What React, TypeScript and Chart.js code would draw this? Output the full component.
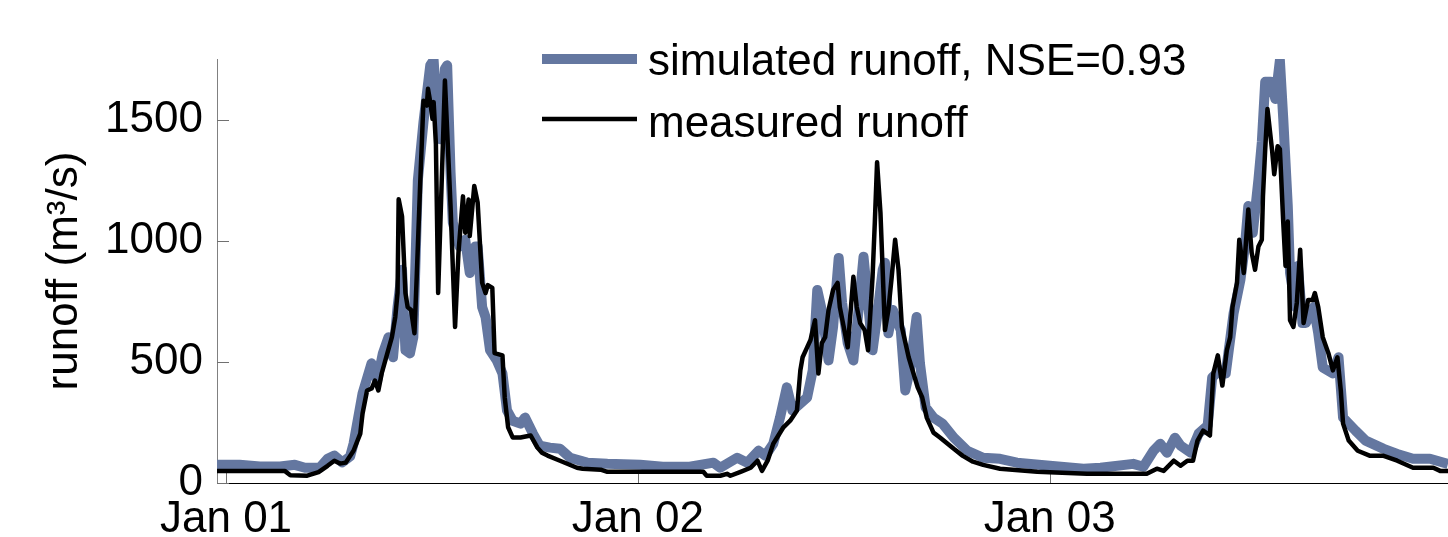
import { useEffect, useRef } from 'react';
import { Chart, registerables } from 'chart.js';

Chart.register(...registerables);

// Days since Jan 01 (first year) and runoff in m³/s
const measuredDays = [
  -8, 21, 52, 57, 72, 82, 90, 96, 101, 106, 113, 119, 121, 125, 129, 132, 135, 138, 143, 147,
  150, 152, 153, 156, 159, 161, 164, 167, 169, 172, 175, 178, 179, 181, 183, 184, 186, 188, 194, 199,
  203, 206, 210, 212, 215, 216, 220, 223, 227, 230, 232, 236, 238, 245, 247, 250, 254, 261, 270, 276,
  280, 285, 296, 311, 316, 332, 338, 379, 423, 426, 438, 444, 447, 456, 465, 471, 475, 480, 485, 494,
  500, 506, 509, 511, 515, 518, 522, 525, 528, 531, 534, 538, 542, 544, 551, 556, 559, 562, 566, 569,
  573, 575, 577, 580, 584, 587, 590, 593, 596, 599, 605, 613, 617, 621, 627, 633, 645, 653, 662, 671,
  686, 719, 763, 816, 825, 831, 840, 846, 852, 857, 861, 866, 872, 875, 879, 883, 887, 890, 892, 896,
  898, 902, 906, 909, 912, 915, 918, 919, 921, 923, 927, 929, 932, 934, 937, 939, 941, 943, 946, 949,
  952, 955, 959, 963, 965, 968, 972, 977, 981, 985, 988, 990, 995, 1003, 1014, 1026, 1038, 1052, 1070, 1076,
  1083,
];
const measuredRunoff = [
  50, 50, 50, 32, 30, 45, 71, 92, 80, 84, 133, 204, 287, 382, 390, 423, 382, 453, 536, 602,
  685, 784, 1171, 1100, 784, 726, 714, 618, 851, 1225, 1578, 1558, 1627, 1572, 1503, 1572, 1400, 784, 1661, 1142,
  644, 951, 1183, 1033, 1170, 1019, 1226, 1158, 826, 784, 817, 805, 536, 527, 353, 230, 188, 188, 196, 146,
  125, 113, 92, 63, 59, 55, 46, 46, 46, 30, 30, 38, 30, 46, 63, 92, 50, 92, 162, 230,
  257, 299, 465, 519, 560, 590, 672, 452, 577, 602, 714, 797, 826, 726, 560, 851, 726, 660, 631, 548,
  851, 1075, 1324, 1116, 631, 714, 851, 1004, 880, 644, 519, 395, 353, 270, 208, 187, 141, 112, 88, 75,
  59, 46, 38, 38, 59, 50, 92, 71, 92, 92, 175, 216, 196, 452, 527, 402, 548, 602, 726, 826,
  1004, 867, 1129, 951, 880, 976, 1004, 1183, 1378, 1544, 1378, 1274, 1390, 1378, 1075, 896, 1079, 672, 644, 743,
  963, 660, 755, 755, 784, 726, 602, 536, 465, 519, 382, 245, 175, 133, 112, 112, 92, 63, 63, 50,
  50,
];

const simulatedDays = [
  -8, 12, 30, 48, 61, 70, 83, 90, 96, 103, 110, 113, 121, 129, 134, 139, 144, 148, 152, 156,
  159, 163, 166, 170, 175, 181, 184, 187, 190, 194, 196, 199, 201, 207, 212, 216, 221, 223, 227, 230,
  234, 240, 245, 249, 254, 261, 265, 272, 278, 287, 296, 305, 320, 338, 367, 387, 411, 432, 438, 453,
  462, 472, 478, 485, 491, 497, 502, 509, 515, 520, 524, 528, 534, 538, 543, 546, 551, 556, 560, 565,
  569, 573, 577, 582, 584, 587, 591, 598, 602, 606, 612, 615, 620, 627, 635, 645, 657, 671, 686, 701,
  730, 760, 775, 804, 813, 822, 828, 834, 841, 846, 855, 862, 870, 874, 881, 886, 893, 899, 903, 906,
  910, 915, 918, 921, 926, 930, 934, 937, 941, 943, 948, 950, 954, 957, 964, 968, 972, 981, 986, 990,
  1001, 1010, 1026, 1038, 1052, 1067, 1083,
];
const simulatedRunoff = [
  75, 75, 68, 68, 75, 63, 63, 100, 113, 85, 110, 162, 370, 494, 423, 535, 602, 519, 726, 880,
  548, 535, 602, 1250, 1490, 1724, 1745, 1518, 1419, 1710, 1724, 1282, 1075, 976, 1004, 867, 976, 976, 726, 685,
  548, 506, 452, 300, 257, 245, 270, 204, 154, 146, 141, 104, 84, 79, 75, 67, 67, 84, 63, 104,
  84, 133, 113, 162, 270, 395, 299, 328, 353, 465, 797, 714, 506, 644, 929, 743, 577, 506, 685, 934,
  743, 548, 685, 880, 909, 618, 714, 631, 382, 465, 685, 494, 312, 270, 245, 187, 133, 104, 100, 84,
  71, 59, 63, 79, 67, 133, 162, 125, 187, 154, 125, 204, 237, 436, 465, 452, 701, 838, 976, 1143,
  1033, 1253, 1407, 1656, 1656, 1585, 1745, 1503, 1143, 867, 726, 896, 660, 660, 726, 618, 477, 452, 519, 270,
  216, 175, 141, 120, 100, 100, 79,
];

const xTickValues = [0, 365, 730];
const xTickLabels = ['Jan 01', 'Jan 02', 'Jan 03'];
const yTickValues = [0, 500, 1000, 1500];
const legendLabels = ['simulated runoff, NSE=0.93', 'measured runoff'];

const FONT = "'Liberation Sans', Arial, sans-serif";
const BLUE = 'rgb(100,119,160)';

const decorPlugin = {
  id: 'decor',
  beforeDatasetsDraw(chart: any) {
    const { ctx, chartArea, scales } = chart;
    ctx.save();
    ctx.lineWidth = 1;
    ctx.strokeStyle = '#707070';
    for (const v of yTickValues) {
      const py = Math.round(scales.y.getPixelForValue(v)) + 0.5;
      ctx.beginPath();
      ctx.moveTo(chartArea.left, py);
      ctx.lineTo(chartArea.left + 12, py);
      ctx.stroke();
    }
    for (const v of xTickValues) {
      const px = Math.round(scales.x.getPixelForValue(v)) + 0.5;
      ctx.beginPath();
      ctx.moveTo(px, chartArea.bottom);
      ctx.lineTo(px, chartArea.bottom - 10);
      ctx.stroke();
    }
    ctx.restore();
  },
  afterDraw(chart: any) {
    const { ctx } = chart;
    ctx.save();
    const rows = [
      { y: 59, base: 75, color: BLUE, width: 10 },
      { y: 119, base: 137, color: '#000', width: 4.5 },
    ];
    rows.forEach((r, i) => {
      ctx.strokeStyle = r.color;
      ctx.lineWidth = r.width;
      ctx.lineCap = 'butt';
      ctx.beginPath();
      ctx.moveTo(542, r.y);
      ctx.lineTo(637, r.y);
      ctx.stroke();
      ctx.fillStyle = '#000';
      ctx.font = `44px ${FONT}`;
      ctx.textBaseline = 'alphabetic';
      ctx.textAlign = 'left';
      ctx.fillText(legendLabels[i], 648, r.base);
    });
    ctx.restore();
  },
};

export default function App() {
  const ref = useRef<HTMLCanvasElement>(null);
  useEffect(() => {
    if (!ref.current) return;
    const chart = new Chart(ref.current, {
      type: 'line',
      data: {
        datasets: [
          {
            label: legendLabels[1],
            data: measuredDays.map((d, i) => ({ x: d, y: measuredRunoff[i] })),
            borderColor: '#000',
            backgroundColor: '#000',
            borderWidth: 4.5,
            pointRadius: 0,
            tension: 0,
            borderJoinStyle: 'round',
            order: 0,
            clip: 0,
          },
          {
            label: legendLabels[0],
            data: simulatedDays.map((d, i) => ({ x: d, y: simulatedRunoff[i] })),
            borderColor: BLUE,
            backgroundColor: BLUE,
            borderWidth: 10,
            pointRadius: 0,
            tension: 0,
            borderJoinStyle: 'round',
            order: 1,
            clip: 0,
          },
        ],
      } as any,
      options: {
        responsive: false,
        animation: false,
        events: [],
        layout: { padding: { left: 0, right: 0, top: 59, bottom: 0 } },
        plugins: { legend: { display: false }, tooltip: { enabled: false } },
        scales: {
          x: {
            type: 'linear',
            min: -8,
            max: 1083,
            afterBuildTicks: (s: any) => {
              s.ticks = xTickValues.map((v) => ({ value: v }));
            },
            afterFit: (s: any) => {
              s.height = 54;
            },
            ticks: {
              callback: (v: any) => {
                const i = xTickValues.indexOf(Number(v));
                return i >= 0 ? xTickLabels[i] : '';
              },
              font: { family: FONT, size: 44 },
              color: '#000',
              padding: 10,
              maxRotation: 0,
              autoSkip: false,
            },
            grid: { display: false, drawTicks: false },
            border: { display: true, color: '#000', width: 1 },
          },
          y: {
            min: 0,
            max: 1750,
            afterBuildTicks: (s: any) => {
              s.ticks = yTickValues.map((v) => ({ value: v }));
            },
            afterFit: (s: any) => {
              s.width = 217;
            },
            ticks: {
              callback: (v: any) => String(v),
              font: { family: FONT, size: 44 },
              color: '#000',
              padding: 14,
            },
            grid: { display: false, drawTicks: false },
            border: { display: true, color: '#808080', width: 1 },
            title: {
              display: true,
              text: 'runoff (m³/s)',
              font: { family: FONT, size: 44 },
              color: '#000',
              padding: { top: 38, bottom: 0 },
            },
          },
        },
      } as any,
      plugins: [decorPlugin],
    });
    return () => chart.destroy();
  }, []);
  return (
    <div style={{ position: 'absolute', left: 0, top: 0, width: 1448, height: 537, background: '#fff' }}>
      <canvas ref={ref} width={1448} height={537} style={{ display: 'block' }} />
    </div>
  );
}
